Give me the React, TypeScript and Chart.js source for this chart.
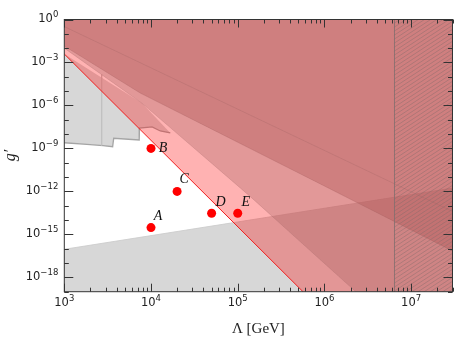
import { useEffect, useRef } from 'react';
import { Chart, registerables } from 'chart.js';

Chart.register(...registerables);

// Axis ranges
const LAMBDA_MIN = 1e3;
const LAMBDA_MAX = 3e7;
const G_MIN = 1e-19;
const G_MAX = 1;

// Tick labels (exponents)
const xLabelExps = [3, 4, 5, 6, 7];
const yLabelExps = [0, -3, -6, -9, -12, -15, -18];

// Benchmark points
const pointNames = ['A', 'B', 'C', 'D', 'E'];
const pointLambda = [1e4, 1e4, 2e4, 5e4, 1e5];
const pointG = [3e-15, 1e-9, 1e-12, 3e-14, 3e-14];

// Light pink region lower edge (red line)
const redEdgeLambda = [1e3, 5.66e5];
const redEdgeG = [3.9e-3, 1e-19];

// Medium region lower edge
const midEdgeLambda = [1e3, 7.9e3, 1.4e5, 2.3e6];
const midEdgeG = [1.0e-2, 1.4e-6, 4.3e-13, 1e-19];

// Dark region lower edge
const darkEdgeLambda = [1e3, 7.5e3, 9.0e5, 3e7];
const darkEdgeG = [1.4e-2, 7.4e-6, 3.3e-12, 7e-17];

// Faint inner line in dark region
const innerLineLambda = [1e3, 3e7];
const innerLineG = [3.2e-1, 4e-14];

// Bottom gray region upper edge
const grayLowLambda = [1e3, 3e7];
const grayLowG = [9.1e-17, 1.7e-12];

// Upper-left gray region outline
const grayTopLambda = [1e3, 7.9e3, 1.67e4, 1.28e4, 1.03e4, 7.36e3, 7.31e3, 3.71e3, 3.61e3, 2.8e3, 1.82e3, 1e3];
const grayTopG = [3.9e-3, 1.4e-6, 1.2e-8, 1.66e-8, 3.2e-8, 2.6e-8, 3.9e-9, 5.1e-9, 1.32e-9, 1.55e-9, 1.95e-9, 2.5e-9];

// Faint vertical line inside gray region
const grayVertLambda = [2.7e3, 2.7e3];
const grayVertG = [1.4e-4, 1.6e-9];

// Hatched region start
const HATCH_START = 6.3e6;

const pts = (xs: number[], ys: number[]) => xs.map((x, i) => ({ x, y: ys[i] }));

const SUP: Record<string, string> = { '-': '\u2212' };

function drawPow(ctx: CanvasRenderingContext2D, exp: number, x: number, y: number, align: 'center' | 'right') {
  const base = '10';
  const e = String(exp).split('').map((c) => SUP[c] ?? c).join('');
  ctx.font = '11.5px "DejaVu Sans"';
  const wb = ctx.measureText(base).width;
  ctx.font = '8.5px "DejaVu Sans"';
  const we = ctx.measureText(e).width;
  const total = wb + we;
  const start = align === 'center' ? x - total / 2 : x - total;
  ctx.textAlign = 'left';
  ctx.textBaseline = 'middle';
  ctx.font = '11.5px "DejaVu Sans"';
  ctx.fillText(base, start, y);
  ctx.font = '8.5px "DejaVu Sans"';
  ctx.fillText(e, start + wb, y - 4.5);
}

const customPlugin = {
  id: 'customDraw',
  afterDatasetsDraw(chart: any) {
    const { ctx, chartArea: a, scales } = chart;
    const x = scales.x;
    const hx = x.getPixelForValue(HATCH_START);
    ctx.save();
    ctx.beginPath();
    ctx.rect(hx, a.top, a.right - hx, a.bottom - a.top);
    ctx.clip();
    ctx.strokeStyle = 'rgba(125,105,105,0.5)';
    ctx.lineWidth = 0.8;
    const w = a.right - hx;
    const slope = 0.65;
    for (let k = 0; k < a.bottom - a.top + w * slope + 10; k += 4) {
      ctx.beginPath();
      ctx.moveTo(hx, a.top + k);
      ctx.lineTo(a.right, a.top + k - slope * w);
      ctx.stroke();
    }
    ctx.restore();
    ctx.save();
    ctx.strokeStyle = 'rgba(130,110,110,0.8)';
    ctx.lineWidth = 1;
    ctx.beginPath();
    ctx.moveTo(Math.round(hx) + 0.5, a.top);
    ctx.lineTo(Math.round(hx) + 0.5, a.bottom);
    ctx.stroke();
    ctx.restore();
  },
  afterDraw(chart: any) {
    const { ctx, chartArea: a, scales } = chart;
    const x = scales.x;
    const y = scales.y;
    ctx.save();
    ctx.strokeStyle = '#333';
    ctx.lineWidth = 1;
    ctx.strokeRect(a.left, a.top, a.right - a.left, a.bottom - a.top);
    for (let d = 3; d <= 7; d++) {
      for (let m = 1; m <= 9; m++) {
        const v = m * Math.pow(10, d);
        if (v < LAMBDA_MIN || v > LAMBDA_MAX) continue;
        const px = Math.round(x.getPixelForValue(v)) + 0.5;
        const len = m === 1 ? 8 : 4;
        ctx.beginPath();
        ctx.moveTo(px, a.bottom);
        ctx.lineTo(px, a.bottom - len);
        ctx.moveTo(px, a.top);
        ctx.lineTo(px, a.top + len);
        ctx.stroke();
      }
    }
    for (let e = -19; e <= 0; e++) {
      const py = Math.round(y.getPixelForValue(Math.pow(10, e))) + 0.5;
      const len = e % 3 === 0 ? 9 : 4.5;
      ctx.beginPath();
      ctx.moveTo(a.left, py);
      ctx.lineTo(a.left + len, py);
      ctx.moveTo(a.right, py);
      ctx.lineTo(a.right - len, py);
      ctx.stroke();
    }
    ctx.fillStyle = '#222';
    xLabelExps.forEach((e) => {
      drawPow(ctx, e, x.getPixelForValue(Math.pow(10, e)), a.bottom + 11.5, 'center');
    });
    yLabelExps.forEach((e) => {
      drawPow(ctx, e, a.left - 6, y.getPixelForValue(Math.pow(10, e)), 'right');
    });
    ctx.font = '15px "Liberation Serif"';
    ctx.textAlign = 'center';
    ctx.textBaseline = 'middle';
    ctx.fillText('\u039B [GeV]', (a.left + a.right) / 2, 329);
    ctx.save();
    ctx.translate(11, (a.top + a.bottom) / 2);
    ctx.rotate(-Math.PI / 2);
    ctx.font = 'italic 16px "Liberation Serif"';
    ctx.fillText('g\u2032', 0, 0);
    ctx.restore();
    const offs = [[7, -11], [12, 0], [7, -12], [9, -11], [8, -11]];
    ctx.font = 'italic 14px "Liberation Serif"';
    ctx.fillStyle = '#111';
    pointNames.forEach((n, i) => {
      const px = x.getPixelForValue(pointLambda[i]);
      const py = y.getPixelForValue(pointG[i]);
      ctx.fillText(n, px + offs[i][0], py + offs[i][1]);
    });
    ctx.restore();
  },
};

export default function App() {
  const ref = useRef<HTMLCanvasElement>(null);
  useEffect(() => {
    const canvas = ref.current;
    if (!canvas) return;
    const corner = (x: number, y: number) => ({ x, y });
    const chart = new Chart(canvas, {
      type: 'scatter',
      data: {
        datasets: [
          {
            data: [corner(LAMBDA_MIN, G_MIN), ...pts(grayLowLambda, grayLowG), corner(LAMBDA_MAX, G_MIN)],
            showLine: true, fill: 'shape', backgroundColor: 'rgba(150,150,150,0.38)',
            borderColor: 'rgba(205,205,205,0.9)', borderWidth: 1, pointRadius: 0, order: 30,
          } as any,
          {
            data: pts(grayTopLambda, grayTopG),
            showLine: true, fill: 'shape', backgroundColor: 'rgba(150,150,150,0.38)',
            borderWidth: 0, pointRadius: 0, order: 29,
          } as any,
          {
            data: pts(grayTopLambda.slice(2), grayTopG.slice(2)),
            showLine: true, borderColor: 'rgba(165,165,165,1)', borderWidth: 1.3, pointRadius: 0, order: 28,
          } as any,
          {
            data: pts(grayVertLambda, grayVertG),
            showLine: true, borderColor: 'rgba(192,192,192,1)', borderWidth: 0.8, pointRadius: 0, order: 27,
          } as any,
          {
            data: [...pts(redEdgeLambda, redEdgeG), corner(LAMBDA_MAX, G_MIN), corner(LAMBDA_MAX, G_MAX), corner(LAMBDA_MIN, G_MAX)],
            showLine: true, fill: 'shape', backgroundColor: 'rgba(255,0,0,0.3)',
            borderWidth: 0, pointRadius: 0, order: 26,
          } as any,
          {
            data: [...pts(midEdgeLambda, midEdgeG), corner(LAMBDA_MAX, G_MIN), corner(LAMBDA_MAX, G_MAX), corner(LAMBDA_MIN, G_MAX)],
            showLine: true, fill: 'shape', backgroundColor: 'rgba(170,100,100,0.34)',
            borderWidth: 0, pointRadius: 0, order: 25,
          } as any,
          {
            data: [...pts(darkEdgeLambda, darkEdgeG), corner(LAMBDA_MAX, G_MAX), corner(LAMBDA_MIN, G_MAX)],
            showLine: true, fill: 'shape', backgroundColor: 'rgba(171,79,79,0.33)',
            borderWidth: 0, pointRadius: 0, order: 24,
          } as any,
          {
            data: pts(redEdgeLambda, redEdgeG),
            showLine: true, borderColor: 'rgba(240,30,30,1)', borderWidth: 1, pointRadius: 0, order: 23,
          } as any,
          {
            data: pts(midEdgeLambda, midEdgeG),
            showLine: true, borderColor: 'rgba(170,110,110,0.3)', borderWidth: 1, pointRadius: 0, order: 22,
          } as any,
          {
            data: pts(darkEdgeLambda, darkEdgeG),
            showLine: true, borderColor: 'rgba(160,90,90,0.3)', borderWidth: 1, pointRadius: 0, order: 21,
          } as any,
          {
            data: pts(innerLineLambda, innerLineG),
            showLine: true, borderColor: 'rgba(160,100,100,0.3)', borderWidth: 1, pointRadius: 0, order: 20,
          } as any,
          {
            data: pts(pointLambda, pointG),
            pointRadius: 4.5, pointBackgroundColor: '#ff0000', pointBorderWidth: 0,
            borderColor: '#ff0000', order: 0,
          } as any,
        ],
      },
      options: {
        animation: false,
        responsive: false,
        devicePixelRatio: 1,
        layout: { padding: { left: 64.3, right: 3.7, top: 19.5, bottom: 49.3 } },
        plugins: { legend: { display: false }, tooltip: { enabled: false } },
        scales: {
          x: { type: 'logarithmic', min: LAMBDA_MIN, max: LAMBDA_MAX, display: false },
          y: { type: 'logarithmic', min: G_MIN, max: G_MAX, display: false },
        },
      } as any,
      plugins: [customPlugin],
    });
    return () => chart.destroy();
  }, []);
  return (
    <div style={{ position: 'fixed', left: 0, top: 0, width: 457, height: 341, background: '#fff' }}>
      <canvas ref={ref} width={457} height={341} style={{ width: 457, height: 341 }} />
    </div>
  );
}
